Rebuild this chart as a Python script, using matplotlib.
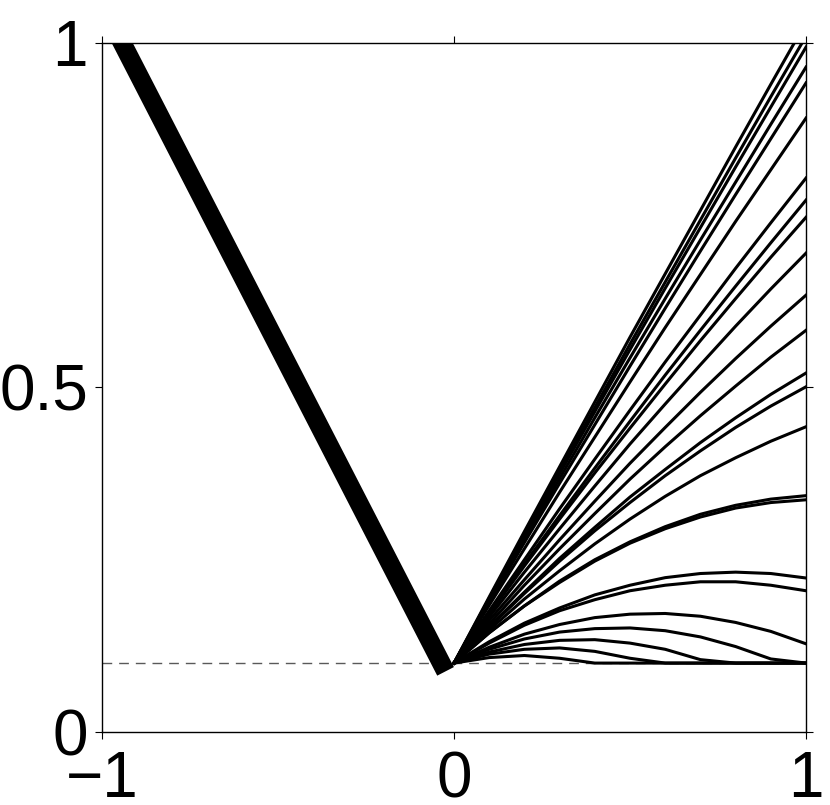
#!/usr/bin/env python3
import matplotlib
matplotlib.use("Agg")
import matplotlib.pyplot as plt

# left branch: one thick bundle from the top-left corner down to the vertex
left_x = [-1.0, -0.024]
left_y = [1.057, 0.088]

# right branch: y read at x = 0, 0.1, ..., 1 for each curve
right_x = [0.0, 0.1, 0.2, 0.3, 0.4, 0.5, 0.6, 0.7, 0.8, 0.9, 1.0]
right_curves = [
    [0.1, 0.196, 0.291, 0.385, 0.479, 0.573, 0.665, 0.757, 0.849, 0.940, 1.030],
    [0.1, 0.194, 0.287, 0.379, 0.471, 0.563, 0.653, 0.743, 0.833, 0.922, 1.010],
    [0.1, 0.192, 0.284, 0.375, 0.465, 0.555, 0.644, 0.732, 0.820, 0.907, 0.994],
    [0.1, 0.190, 0.279, 0.368, 0.456, 0.543, 0.629, 0.714, 0.798, 0.882, 0.965],
    [0.1, 0.188, 0.275, 0.361, 0.446, 0.531, 0.615, 0.698, 0.780, 0.861, 0.942],
    [0.1, 0.184, 0.266, 0.348, 0.428, 0.508, 0.587, 0.664, 0.741, 0.816, 0.891],
    [0.1, 0.176, 0.250, 0.324, 0.396, 0.467, 0.537, 0.605, 0.673, 0.739, 0.804],
    [0.1, 0.173, 0.244, 0.314, 0.383, 0.451, 0.518, 0.583, 0.647, 0.710, 0.772],
    [0.1, 0.171, 0.241, 0.309, 0.376, 0.441, 0.505, 0.568, 0.629, 0.689, 0.747],
    [0.1, 0.167, 0.232, 0.295, 0.357, 0.418, 0.476, 0.533, 0.589, 0.643, 0.695],
    [0.1, 0.162, 0.221, 0.279, 0.335, 0.390, 0.442, 0.493, 0.542, 0.589, 0.634],
    [0.1, 0.157, 0.213, 0.266, 0.317, 0.367, 0.414, 0.459, 0.502, 0.544, 0.583],
    [0.1, 0.153, 0.203, 0.252, 0.297, 0.341, 0.381, 0.420, 0.456, 0.490, 0.521],
    [0.1, 0.152, 0.201, 0.248, 0.292, 0.333, 0.372, 0.408, 0.442, 0.473, 0.501],
    [0.1, 0.148, 0.193, 0.234, 0.273, 0.309, 0.342, 0.372, 0.398, 0.422, 0.443],
    [0.1, 0.144, 0.183, 0.219, 0.250, 0.276, 0.298, 0.316, 0.329, 0.338, 0.343],
    [0.1, 0.144, 0.183, 0.217, 0.248, 0.274, 0.295, 0.312, 0.325, 0.333, 0.337],
    [0.1, 0.131, 0.158, 0.180, 0.199, 0.213, 0.224, 0.230, 0.232, 0.230, 0.2235],
    [0.1, 0.129, 0.155, 0.176, 0.192, 0.205, 0.213, 0.218, 0.218, 0.213, 0.205],
    [0.1, 0.123, 0.142, 0.156, 0.166, 0.171, 0.172, 0.168, 0.159, 0.146, 0.128],
    [0.1, 0.120, 0.135, 0.145, 0.150, 0.151, 0.147, 0.138, 0.124, 0.106, 0.100],
    [0.1, 0.116, 0.127, 0.133, 0.134, 0.129, 0.120, 0.105, 0.100, 0.100, 0.100],
    [0.1, 0.113, 0.120, 0.122, 0.117, 0.107, 0.100, 0.100, 0.100, 0.100, 0.100],
    [0.1, 0.108, 0.111, 0.107, 0.100, 0.100, 0.100, 0.100, 0.100, 0.100, 0.100],
]

floor_level = 0.1
x_ticks = [-1, 0, 1]
y_ticks = [0, 0.5, 1]
x_labels = ["\u22121", "0", "1"]
y_labels = ["0", "0.5", "1"]

plt.rcParams["font.family"] = ["Liberation Sans", "DejaVu Sans"]

fig = plt.figure(figsize=(8.3, 8.05), dpi=100)
ax = fig.add_axes([0.1229, 0.0907, 0.8482, 0.8559])

ax.axhline(floor_level, color="0.35", linewidth=1.0, dashes=(7, 5), zorder=1)
ax.plot(left_x, left_y, color="black", linewidth=13.5,
        solid_capstyle="butt", zorder=3)
for ys in right_curves:
    ax.plot(right_x, ys, color="black", linewidth=2.2,
            solid_joinstyle="round", zorder=2)

ax.set_xlim(-1, 1)
ax.set_ylim(0, 1)
ax.set_xticks(x_ticks)
ax.set_xticklabels(x_labels)
ax.set_yticks(y_ticks)
ax.set_yticklabels(y_labels)
ax.tick_params(direction="out", length=5, width=0.8, labelsize=46,
               top=True, right=True)
ax.tick_params(axis="x", pad=8)
ax.tick_params(axis="y", pad=5)
for s in ax.spines.values():
    s.set_linewidth(1.0)

fig.savefig("out.png", dpi=100)
